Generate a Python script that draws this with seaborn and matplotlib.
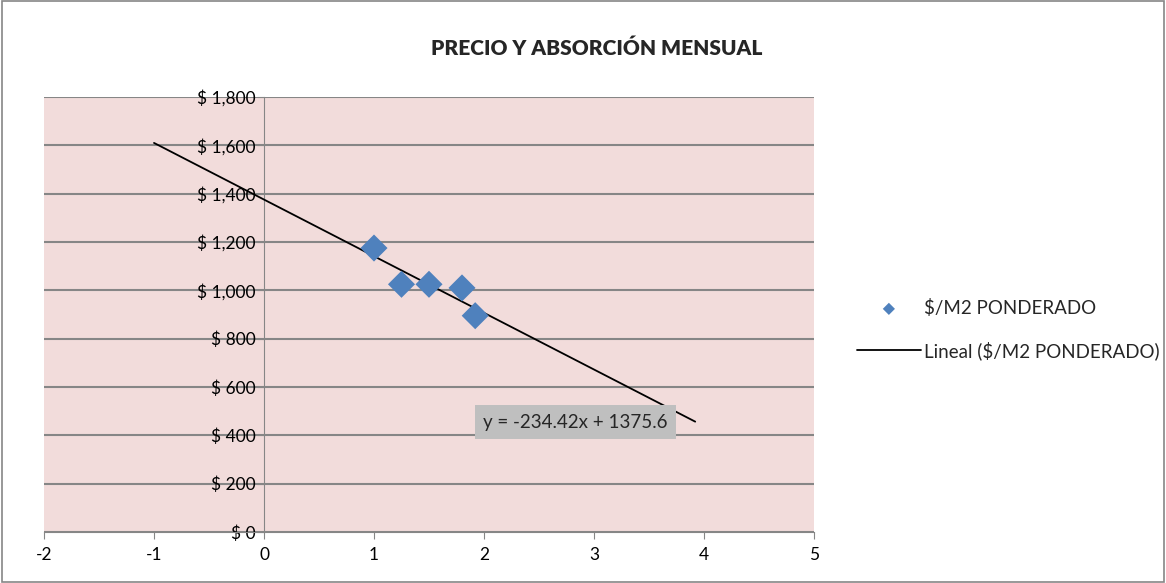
import numpy as np
import pandas as pd
import matplotlib
matplotlib.use("Agg")
import matplotlib.pyplot as plt
import matplotlib.patches as patches
from matplotlib.ticker import FuncFormatter
import seaborn as sns

# datos
absorcion = [1.0, 1.25, 1.5, 1.8, 1.92]
precio_m2 = [1175, 1025, 1025, 1010, 895]

# linea de tendencia (lineal) como la muestra la etiqueta
pendiente = -234.42
ordenada = 1375.6
x_tendencia = [-1.0, 3.92]

x_ticks = [-2, -1, 0, 1, 2, 3, 4, 5]
y_ticks = [0, 200, 400, 600, 800, 1000, 1200, 1400, 1600, 1800]

sns.set_style("white")
plt.rcParams["font.family"] = ["Lato", "DejaVu Sans"]
plt.rcParams["axes.unicode_minus"] = False

df = pd.DataFrame({"x": absorcion, "y": precio_m2})
df_t = pd.DataFrame({"x": x_tendencia,
                     "y": [pendiente * v + ordenada for v in x_tendencia]})

fig = plt.figure(figsize=(11.66, 5.83), dpi=100)
ax = fig.add_axes([44 / 1166, 51 / 583, 770 / 1166, 435 / 583])
ax.set_facecolor("#F2DCDB")

sns.lineplot(data=df_t, x="x", y="y", ax=ax, color="black", linewidth=1.3,
             label="Lineal ($/M2 PONDERADO)", zorder=3)
sns.scatterplot(data=df, x="x", y="y", ax=ax, marker="D", s=190,
                color="#4F81BD", edgecolor="none", label="$/M2 PONDERADO", zorder=4)

ax.set_xlim(-2, 5)
ax.set_ylim(0, 1800)
ax.set_xticks(x_ticks)
ax.set_yticks(y_ticks)
ax.yaxis.set_major_formatter(FuncFormatter(lambda v, p: "$ {:,.0f}".format(v)))
ax.set_xlabel("")
ax.set_ylabel("")
ax.grid(axis="y", color="#868686", linewidth=1.5)
ax.set_axisbelow(True)

for s in ["top", "right"]:
    ax.spines[s].set_visible(False)
ax.spines["left"].set_position(("data", 0))
ax.spines["left"].set_color("#868686")
ax.spines["bottom"].set_color("#868686")
ax.tick_params(axis="both", which="both", direction="out", length=5,
               color="#868686", labelsize=12.5, labelcolor="black",
               left=True, bottom=True)
ax.tick_params(axis="x", pad=6)
ax.tick_params(axis="y", pad=1)

ax.text(1.99, 455, "y = -234.42x + 1375.6", fontsize=13.5, va="center",
        bbox=dict(facecolor="#BFBFBF", edgecolor="none", pad=6))

fig.text(0.512, 0.917, "PRECIO Y ABSORCIÓN MENSUAL", ha="center", va="center",
         fontsize=15, fontweight="heavy")

h, l = ax.get_legend_handles_labels()
ax.legend(h[::-1], l[::-1], loc="center left", bbox_to_anchor=(857 / 1166, 0.435),
          bbox_transform=fig.transFigure, frameon=False, fontsize=13.5,
          handlelength=3.4, handletextpad=0.15, labelspacing=1.3, markerscale=0.45,
          borderaxespad=0, borderpad=0)

fig.patches.append(patches.Rectangle((0.0015, 0.002), 0.997, 0.996, fill=False,
                                     edgecolor="#868686", linewidth=1.2,
                                     transform=fig.transFigure))

fig.savefig("out.png", dpi=100)
